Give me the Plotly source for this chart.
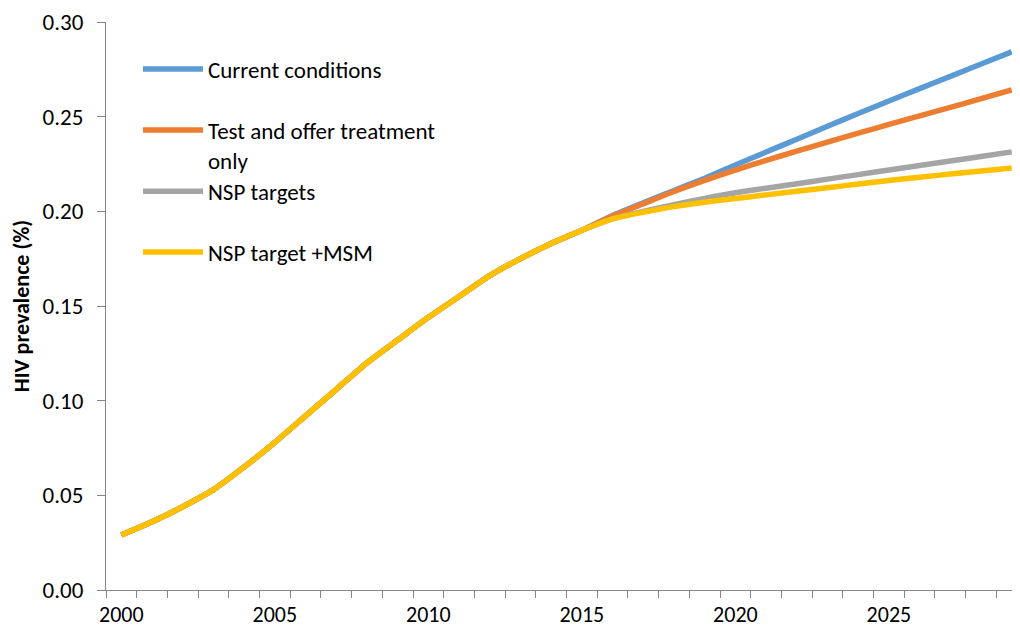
"""
HIV prevalence projections - line chart
"""

import plotly.graph_objects as go

years = list(range(2000, 2030))

# shared history up to 2015
common = [0.029, 0.036, 0.044, 0.053, 0.065, 0.078, 0.092, 0.106, 0.120, 0.132,
          0.144, 0.155, 0.166, 0.175, 0.183, 0.190]

current_conditions = common + [0.1978, 0.2045, 0.2110, 0.2175, 0.2245, 0.2313, 0.2381,
                               0.2449, 0.2517, 0.2583, 0.2648, 0.2713, 0.2778, 0.2842]
test_and_treat = common + [0.1975, 0.2040, 0.2105, 0.2164, 0.2218, 0.2269, 0.2318,
                           0.2366, 0.2413, 0.2459, 0.2504, 0.2549, 0.2595, 0.2641]
nsp_targets = common + [0.1960, 0.2000, 0.2035, 0.2068, 0.2098, 0.2122, 0.2146,
                        0.2170, 0.2194, 0.2218, 0.2242, 0.2266, 0.2290, 0.2314]
nsp_target_msm = common + [0.1960, 0.1995, 0.2025, 0.2048, 0.2068, 0.2087, 0.2106,
                           0.2125, 0.2144, 0.2163, 0.2180, 0.2197, 0.2213, 0.2229]

# name, values, colour, which legend box
series = [
    ("Current conditions", current_conditions, "#5B9BD5", "legend"),
    ("Test and offer treatment<br>only", test_and_treat, "#ED7D31", "legend"),
    ("NSP targets", nsp_targets, "#A5A5A5", "legend2"),
    ("NSP target +MSM", nsp_target_msm, "#FFC000", "legend2"),
]

x_ticks = [2000, 2005, 2010, 2015, 2020, 2025]
y_ticks = [0.00, 0.05, 0.10, 0.15, 0.20, 0.25, 0.30]

FONT = "Carlito, Calibri, Lato, sans-serif"
AXIS_COLOR = "#868686"
FS = 23

fig = go.Figure()

for i, (name, values, color, leg) in enumerate(series):
    fig.add_trace(go.Scatter(
        x=years,
        y=values,
        name=name,
        mode="lines",
        line=dict(color=color, width=5.5, shape="spline", smoothing=0.6),
        legendgroup=str(i),
        legend=leg,
    ))

legend_style = dict(
    xanchor="left", yanchor="top",
    bgcolor="rgba(0,0,0,0)",
    font=dict(size=FS, family=FONT, color="black"),
    tracegroupgap=28,
    valign="top",
    itemwidth=60,
)

# page body has an 8px margin, so the figure is 8px smaller than the window
fig.update_layout(
    width=1012,
    height=622,
    margin=dict(l=98, r=0, t=14, b=40),
    paper_bgcolor="white",
    plot_bgcolor="white",
    font=dict(family=FONT, size=FS, color="black"),
    showlegend=True,
    legend=dict(x=0.035, y=0.955, **legend_style),
    legend2=dict(x=0.035, y=0.74, **legend_style),
)

fig.update_xaxes(
    range=[1999.5, 2029.27],
    tickmode="array",
    tickvals=x_ticks,
    ticktext=[str(v) for v in x_ticks],
    ticks="",
    ticklabelstandoff=5,
    showline=True,
    linecolor=AXIS_COLOR,
    linewidth=1,
    showgrid=False,
    zeroline=False,
    automargin=False,
    minor=dict(ticks="outside", tick0=1999.5, dtick=1, ticklen=7,
               tickcolor=AXIS_COLOR, showgrid=False),
    tickfont=dict(size=22),
)

fig.update_yaxes(
    range=[0, 0.30],
    tickmode="array",
    tickvals=y_ticks,
    ticktext=[f"{v:.2f}" for v in y_ticks],
    ticks="outside",
    ticklen=8,
    tickcolor=AXIS_COLOR,
    ticklabelstandoff=9,
    showline=True,
    linecolor=AXIS_COLOR,
    linewidth=1,
    showgrid=False,
    zeroline=False,
    automargin=False,
    title=dict(text="<b>HIV prevalence (%)</b>", standoff=10, font=dict(size=22)),
    tickfont=dict(size=FS),
)

fig.write_html("out.html")
